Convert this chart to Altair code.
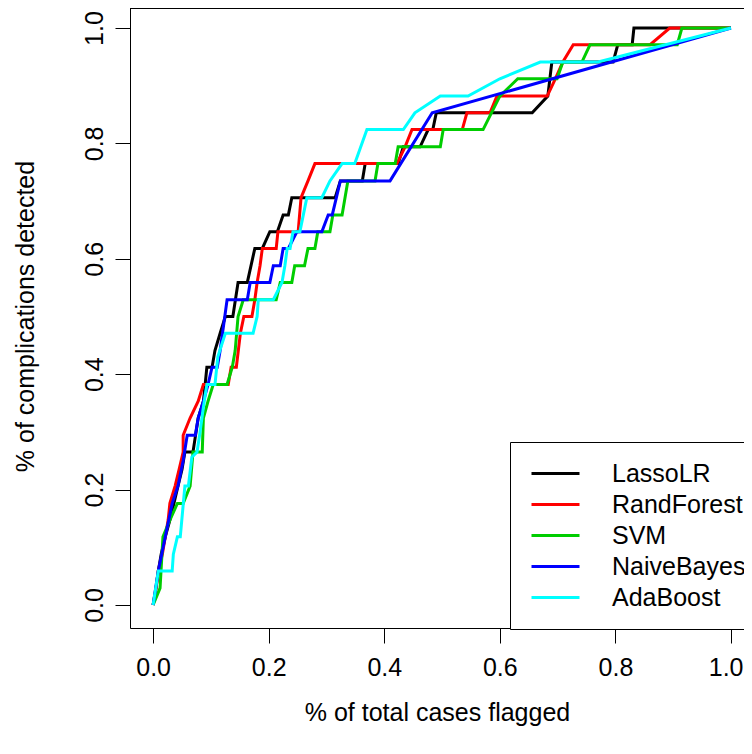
import altair as alt
import pandas as pd

models = ["LassoLR", "RandForest", "SVM", "NaiveBayes", "AdaBoost"]
colors = ["#000000", "#FF0000", "#00CD00", "#0000FF", "#00FFFF"]

lasso_x = [0, .005, .009, .014, .021, .029, .036, .043, .050, .055, .069, .078, .087, .090, .093, .102,
           .107, .116, .125, .138, .147, .163, .176, .189, .202, .215, .225, .234, .240, .315, .324, .362,
           .367, .424, .433, .462, .476, .484, .490, .656, .683, .690, .796, .804, .829, .832, 1]
lasso_y = [0, .029, .059, .088, .118, .147, .176, .206, .235, .265, .265, .324, .353, .382, .412, .412,
           .441, .471, .500, .500, .559, .559, .618, .618, .647, .647, .676, .676, .706, .706, .735, .735,
           .765, .765, .794, .794, .824, .824, .853, .853, .882, .941, .941, .971, .971, 1, 1]

rf_x = [0, .005, .009, .016, .021, .026, .029, .038, .045, .052, .052, .064, .078, .087, .130, .135,
        .144, .151, .157, .171, .176, .180, .185, .189, .213, .216, .251, .256, .268, .280, .422, .436,
        .448, .535, .543, .583, .595, .682, .696, .709, .727, .860, .894, 1]
rf_y = [0, .029, .059, .088, .118, .147, .176, .206, .235, .265, .294, .324, .353, .382, .382, .412,
        .412, .471, .500, .500, .529, .559, .588, .618, .618, .647, .647, .706, .735, .765, .765, .794,
        .824, .824, .853, .853, .882, .882, .912, .941, .971, .971, 1, 1]

svm_x = [0, .012, .017, .029, .042, .052, .064, .069, .085, .087, .095, .104, .128, .137, .142, .147,
         .156, .213, .220, .240, .245, .262, .268, .280, .285, .306, .311, .327, .337, .384, .389, .419,
         .424, .497, .502, .571, .600, .631, .699, .709, .742, .756, .907, .915, 1]
svm_y = [0, .029, .118, .147, .176, .176, .206, .265, .265, .324, .353, .382, .382, .412, .441, .500,
         .529, .529, .559, .559, .588, .588, .618, .618, .647, .647, .676, .676, .735, .735, .765, .765,
         .794, .794, .824, .824, .882, .912, .912, .941, .941, .971, .971, 1, 1]

nb_x = [0, .009, .021, .033, .043, .052, .059, .073, .078, .087, .095, .102, .111, .116, .128, .163,
        .168, .202, .208, .220, .225, .234, .249, .292, .303, .310, .324, .410, .483, 1]
nb_y = [0, .059, .118, .176, .206, .250, .294, .294, .324, .353, .382, .412, .412, .441, .529, .529,
        .559, .559, .588, .588, .618, .618, .647, .647, .676, .676, .735, .735, .853, 1]

ada_x = [0, .009, .033, .035, .042, .047, .055, .061, .067, .076, .081, .087, .093, .107, .112, .125,
         .173, .180, .182, .208, .223, .228, .232, .237, .242, .254, .266, .292, .306, .327, .349, .370,
         .433, .453, .497, .545, .600, .670, .770, 1]
ada_y = [0, .059, .059, .088, .118, .118, .206, .206, .256, .265, .298, .343, .382, .382, .430, .471,
         .471, .500, .529, .529, .559, .588, .618, .618, .647, .647, .706, .706, .735, .765, .765, .824,
         .824, .853, .882, .882, .912, .941, .941, 1]

tick_vals = [0, 0.2, 0.4, 0.6, 0.8, 1.0]

series = [(models[0], lasso_x, lasso_y), (models[1], rf_x, rf_y), (models[2], svm_x, svm_y),
          (models[3], nb_x, nb_y), (models[4], ada_x, ada_y)]
rows = []
for name, xs, ys in series:
    for i, (xv, yv) in enumerate(zip(xs, ys, strict=True)):
        rows.append({"model": name, "i": i, "x": xv, "y": yv})
df = pd.DataFrame(rows)

FONT = "Liberation Sans"
PLOT_W, PLOT_H = 614, 620
xscale = alt.Scale(domain=[-0.04, 1.0225], nice=False, zero=False)
yscale = alt.Scale(domain=[-0.04, 1.0347], nice=False, zero=False)

xaxis = alt.Axis(values=tick_vals, format=".1f", title="% of total cases flagged", grid=False,
                 domain=True, domainColor="black", domainWidth=1,
                 tickSize=15, tickColor="black", labelPadding=12,
                 labelFontSize=25, labelColor="black", labelFont=FONT,
                 titleFontSize=25, titleFont=FONT, titleFontWeight="normal", titleColor="black",
                 titleBaseline="alphabetic", titleY=92, labelFlush=20, labelFlushOffset=12)
yaxis = alt.Axis(values=tick_vals, format=".1f", title="% of complications detected", grid=False,
                 domain=True, domainColor="black", domainWidth=1,
                 tickSize=15, tickColor="black", labelPadding=13,
                 labelFontSize=25, labelColor="black", labelFont=FONT, labelAngle=270,
                 labelAlign="center", labelBaseline="alphabetic", labelFlush=False,
                 titleFontSize=25, titleFont=FONT, titleFontWeight="normal", titleColor="black",
                 titleAngle=270, titleBaseline="alphabetic", titleAlign="center",
                 titleX=-97, titleY=308)

legend = alt.Legend(title=None, orient="none", legendX=380, legendY=434,
                    symbolType="M-2,0H2", symbolSize=576, symbolStrokeWidth=3,
                    labelFontSize=25, labelFont=FONT, labelColor="black", labelLimit=0,
                    strokeColor="black", fillColor="white", padding=18, rowPadding=4,
                    labelOffset=43, symbolOffset=14)

color = alt.Color("model:N", scale=alt.Scale(domain=models, range=colors), legend=legend)

layers = []
for m in models:
    layers.append(
        alt.Chart(df).transform_filter(alt.datum.model == m).mark_line(strokeWidth=3).encode(
            x=alt.X("x:Q", scale=xscale, axis=xaxis),
            y=alt.Y("y:Q", scale=yscale, axis=yaxis),
            color=color,
            order=alt.Order("i:Q"),
        )
    )

# top border of the plot box
top_border = alt.Chart(df).mark_rule(color="black", strokeWidth=1).encode(
    y=alt.value(0), x=alt.value(0), x2=alt.value(PLOT_W)
)

chart = alt.layer(top_border, *layers).properties(
    width=PLOT_W, height=PLOT_H,
    autosize=alt.AutoSizeParams(type="none"),
    padding={"left": 122, "top": 0, "right": 0, "bottom": 106},
    background="white",
).configure_view(stroke=None)

chart.save("out.html", embed_options={"renderer": "svg", "actions": False})
